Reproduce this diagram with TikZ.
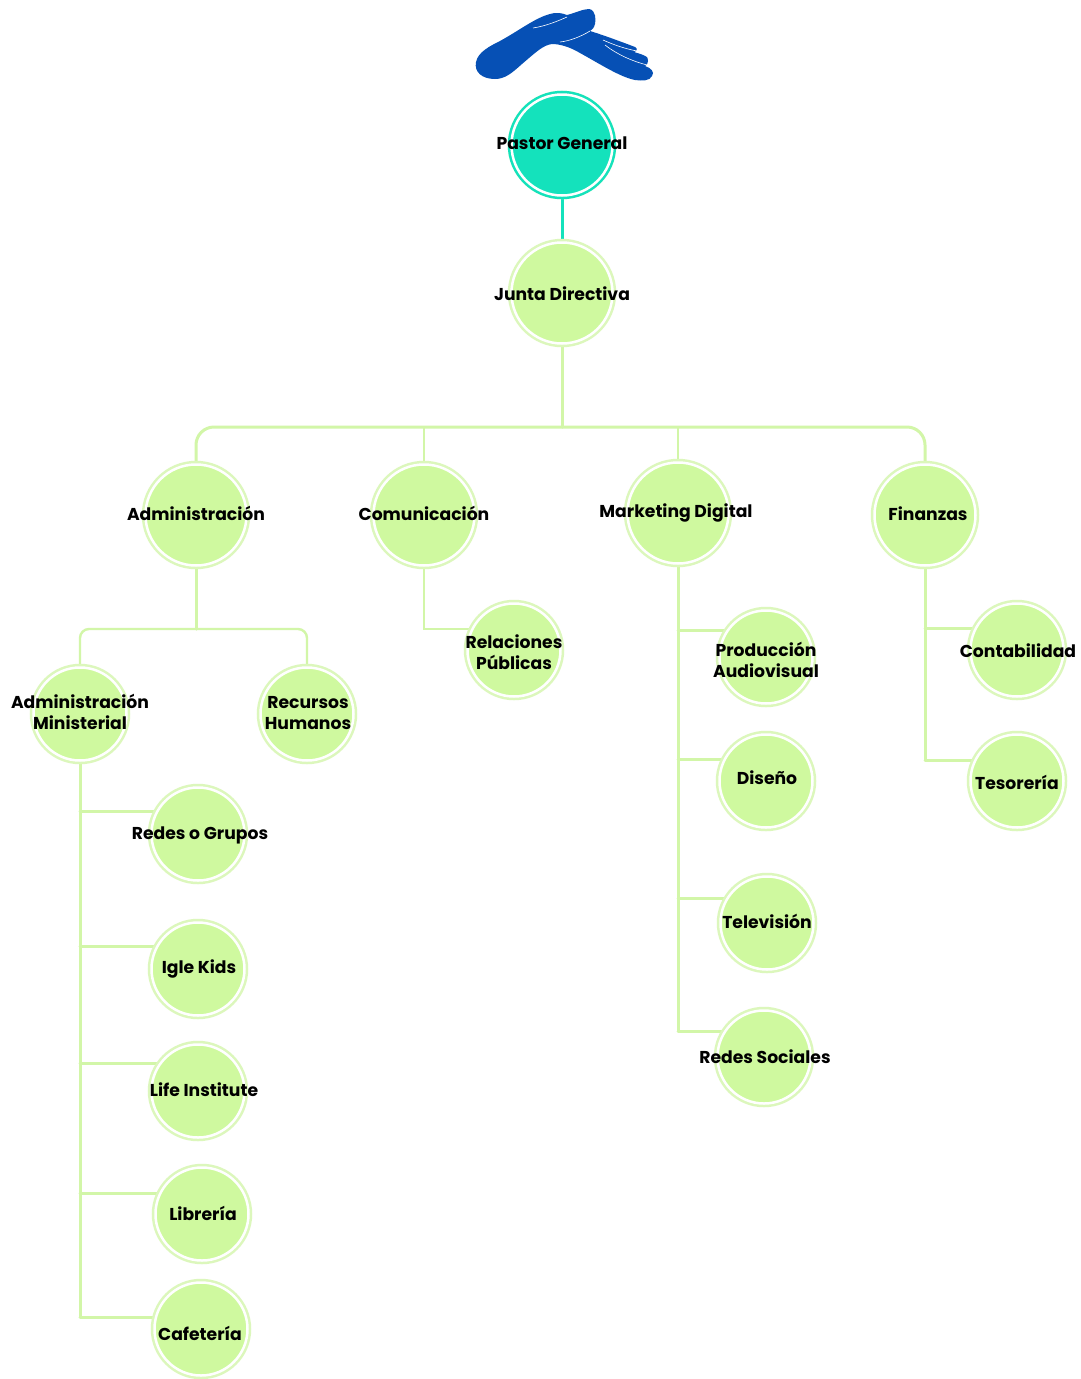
\documentclass[tikz,border=0pt]{standalone}
\usepackage{fontspec}
\setmainfont{Poppins}
\usetikzlibrary{backgrounds}
\definecolor{lime}{HTML}{CFF99F}
\definecolor{limering}{HTML}{DCF7BC}
\definecolor{limeline}{HTML}{D2F6A8}
\definecolor{teal1}{HTML}{14E2BC}
\definecolor{handblue}{HTML}{0650B5}
\tikzset{
  x=1pt,y=-1pt,
  big/.style={circle,inner sep=0pt,outer sep=0pt,minimum size=101pt,fill=lime,draw=white,line width=2.5pt,
    preaction={draw=limering,line width=7.5pt}},
  small/.style={big,minimum size=93pt},
  top/.style={big,fill=teal1,preaction={draw=teal1,line width=7.5pt}},
  txt/.style={text=black,font=\bfseries\fontsize{17.2}{21.5}\selectfont,align=center,inner sep=0pt},
  conn/.style={draw=limeline,line width=3pt,line cap=round},
  thin/.style={draw=limeline,line width=2pt},
}
\begin{document}
\begin{tikzpicture}
\useasboundingbox (0,0) rectangle (1080,1379);
% hand
\fill[handblue] (476,62) .. controls (478,52) and (490,46) .. (500,41)
  .. controls (520,30) and (535,18) .. (550,14)
  .. controls (556,12) and (562,13) .. (567,15)
  .. controls (575,13) and (583,9) .. (589,9)
  .. controls (596,10) and (596,20) .. (595,24)
  .. controls (594,28) and (592,30) .. (590,31)
  .. controls (603,35) and (622,42) .. (635,47)
  .. controls (638,49) and (637,51) .. (634,52)
  .. controls (640,54) and (650,56) .. (648,61)
  .. controls (648,63) and (647,65) .. (645,66)
  .. controls (651,68) and (655,72) .. (652,76)
  .. controls (650,81) and (642,81) .. (635,80)
  .. controls (620,77) and (600,64) .. (580,53)
  .. controls (570,47) and (560,44) .. (552,44)
  .. controls (543,45) and (535,53) .. (522,64)
  .. controls (512,73) and (505,79) .. (495,79)
  .. controls (482,79) and (474,72) .. (476,62) -- cycle;
\draw[white,line width=0.6pt] (533,28) .. controls (546,26) and (558,21) .. (567,17);
\draw[white,line width=0.6pt] (560,42) .. controls (570,41) and (582,36) .. (590,31);
\draw[white,line width=0.6pt] (603,40) .. controls (614,45) and (626,49) .. (637,51);
\draw[white,line width=0.6pt] (605,45) .. controls (618,55) and (632,61) .. (647,65);
% circles
\node[top] (pastor) at (562,145) {};
\node[big] (junta) at (562,293) {};
\node[big] (admin) at (196,515) {};
\node[big] (comu) at (424,515) {};
\node[big] (mark) at (678,513) {};
\node[big] (fin) at (925,515) {};
\node[small] (admmin) at (80,714) {};
\node[small] (rrhh) at (307,714) {};
\node[small] (rel) at (514,650) {};
\node[small] (prod) at (766,657) {};
\node[small] (dis) at (766,781) {};
\node[small] (tele) at (767,923) {};
\node[small] (redsoc) at (764,1057) {};
\node[small] (cont) at (1017,650) {};
\node[small] (tes) at (1017,781) {};
\node[small] (redes) at (198,834) {};
\node[small] (igle) at (198,969) {};
\node[small] (life) at (198,1091) {};
\node[small] (lib) at (202,1214) {};
\node[small] (caf) at (201,1329) {};
% junction coordinates
\coordinate (busT) at (562,427);
\coordinate (busA) at (196,629);
\coordinate (yR) at (424,629);
\coordinate (m1) at (678,630);
\coordinate (m2) at (678,759);
\coordinate (m3) at (678,898);
\coordinate (m4) at (678,1031);
\coordinate (f1) at (925,628);
\coordinate (f2) at (925,760);
\coordinate (a1) at (80,811);
\coordinate (a2) at (80,946);
\coordinate (a3) at (80,1063);
\coordinate (a4) at (80,1193);
\coordinate (a5) at (80,1317);
\begin{scope}[on background layer]
  \fill[white] (0,0) rectangle (1080,1379);
  \draw[teal1,line width=3pt] (pastor) -- (junta);
  \draw[conn] (junta) -- (busT);
  \draw[conn,rounded corners=18pt] (admin) |- (busT) -| (fin);
  \draw[thin] (busT -| comu) -- (comu);
  \draw[thin] (busT -| mark) -- (mark);
  \draw[conn] (admin) -- (busA);
  \draw[conn,rounded corners=9pt,line width=2.4pt] (admmin) |- (busA) -| (rrhh);
  \draw[conn,line width=2.4pt] (comu) |- (yR) -- (yR -| rel);
  \draw[conn] (mark) -- (m4);
  \draw[conn] (m1) -- (m1 -| prod);
  \draw[conn] (m2) -- (m2 -| dis);
  \draw[conn] (m3) -- (m3 -| tele);
  \draw[conn] (m4) -- (m4 -| redsoc);
  \draw[conn] (fin) -- (f2);
  \draw[conn] (f1) -- (f1 -| cont);
  \draw[conn] (f2) -- (f2 -| tes);
  \draw[conn] (admmin) -- (a5);
  \draw[conn] (a1) -- (a1 -| redes);
  \draw[conn] (a2) -- (a2 -| igle);
  \draw[conn] (a3) -- (a3 -| life);
  \draw[conn] (a4) -- (a4 -| lib);
  \draw[conn] (a5) -- (a5 -| caf);
\end{scope}
% labels
\node[txt] (tpastor) at (562,143) {Pastor General};
\node[txt] (tjunta) at (562,294) {Junta Directiva};
\node[txt] (tadmin) at (196,513) {Administración};
\node[txt] (tcomu) at (424,513) {Comunicación};
\node[txt] (tmark) at (676,513) {Marketing Digital};
\node[txt] (tfin) at (928,514) {Finanzas};
\node[txt] (tadmmin) at (80,712) {Administración\\Ministerial};
\node[txt] (trrhh) at (308,713) {Recursos\\Humanos};
\node[txt] (trel) at (514,652) {Relaciones\\Públicas};
\node[txt] (tprod) at (766,660) {Producción\\Audiovisual};
\node[txt] (tdis) at (767,778) {Diseño};
\node[txt] (ttele) at (767,921) {Televisión};
\node[txt] (tredsoc) at (765,1057) {Redes Sociales};
\node[txt] (tcont) at (1018,651) {Contabilidad};
\node[txt] (ttes) at (1017,782) {Tesorería};
\node[txt] (tredes) at (200,835) {Redes o Grupos};
\node[txt] (tigle) at (199,969) {Igle Kids};
\node[txt] (tlife) at (204,1090) {Life Institute};
\node[txt] (tlib) at (203,1213) {Librería};
\node[txt] (tcaf) at (200,1333) {Cafetería};
\end{tikzpicture}
\end{document}
